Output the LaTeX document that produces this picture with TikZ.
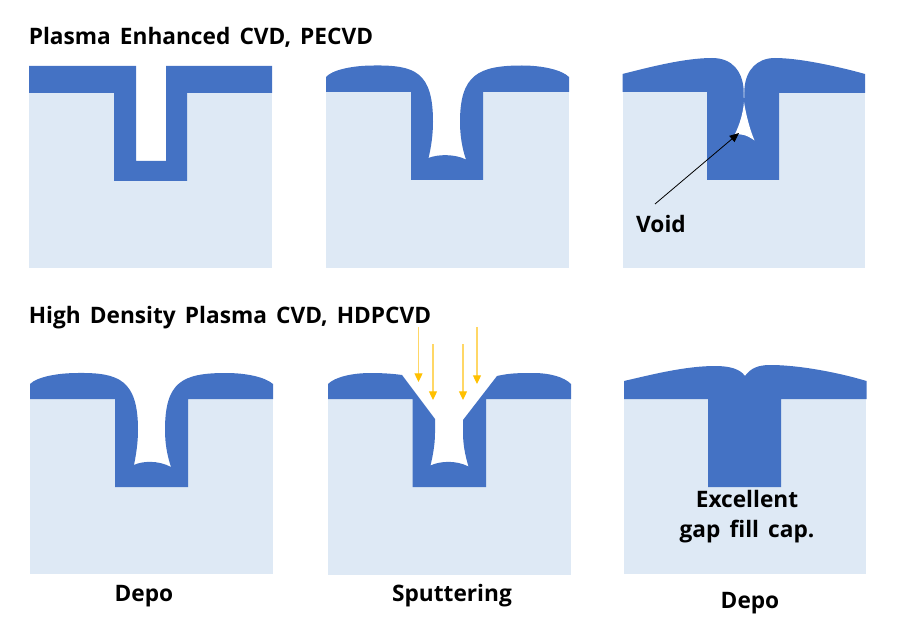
\documentclass[tikz,border=0pt]{standalone}
\usepackage{fontspec}
\setmainfont{Open Sans}[WordSpace=1.55]
\usetikzlibrary{arrows.meta}
\definecolor{filmblue}{HTML}{4472C4}
\definecolor{subst}{HTML}{DEE9F5}
\definecolor{ionyellow}{HTML}{FFC000}
\definecolor{ionline}{HTML}{FFD766}
\tikzset{
  substrate/.style={fill=subst,draw=none},
  film/.style={fill=filmblue,draw=none},
  gap/.style={fill=white,draw=none},
  lbl/.style={font=\bfseries\fontsize{17pt}{22.5pt}\selectfont,text=black,inner sep=0pt,align=center},
  ion/.style={draw=ionline,line width=0.9pt,-{Triangle[length=6.5pt,width=6pt,color=ionyellow]}},
  pointer/.style={draw=black,line width=0.6pt,-{Triangle[length=7pt,width=6pt]}}
}
\begin{document}
\begin{tikzpicture}[x=0.75pt,y=-0.75pt]
\useasboundingbox (0,0) rectangle (897,631);
% Panel 1
\fill[substrate] (29,93) rectangle (272,268);
\fill[gap] (114,93) rectangle (187,181);
\fill[film] (29,66) -- (136,66) -- (136,161) -- (166,161) -- (166,66) -- (272,66) -- (272,93) -- (187,93) -- (187,181) -- (114,181) -- (114,93) -- (29,93) -- cycle;
% Panel 2
\fill[substrate] (326,92) rectangle (569,268);
\fill[gap] (411,92) rectangle (483,180);
\fill[film] (326,92) -- (326,77) .. controls (332,70) and (352,65.5) .. (374,65.5)
 .. controls (415,65) and (433,72) .. (433,122)
 .. controls (433,135) and (431,148) .. (428.5,158)
 .. controls (438,154) and (455,154) .. (466,159.5)
 .. controls (462,148) and (460,135) .. (460,122)
 .. controls (460,75) and (478,65.5) .. (522,65.5)
 .. controls (543,65.5) and (562,70) .. (569,77)
 -- (569,92) -- (483,92) -- (483,180) -- (411,180) -- (411,92) -- cycle;
% Panel 3
\fill[substrate] (623,92) rectangle (865,268);
\fill[film] (622.5,92) -- (622.5,74) .. controls (650,67) and (685,58) .. (712,58)
 .. controls (733,58) and (742,72) .. (743.5,88)
 -- (743.8,100) -- (744.2,100) -- (744.5,88)
 .. controls (746,70) and (757,58) .. (775,58)
 .. controls (800,58) and (840,67) .. (865,74)
 -- (865,93) -- (779,93) -- (779,180) -- (707,180) -- (707,92) -- cycle;
\fill[gap] (744,102) .. controls (743,113) and (740,124) .. (734.5,135)
 .. controls (740,133) and (747,135) .. (754.5,140.5)
 .. controls (750,130) and (746,115) .. (744,102) -- cycle;
% Panel 4
\fill[substrate] (30,399) rectangle (273,574);
\fill[gap] (115,399) rectangle (188,487);
\fill[film] (30,399) -- (30,384) .. controls (37,377) and (57,373) .. (78,373)
 .. controls (119,372.5) and (138,380) .. (138,430)
 .. controls (138,443) and (136,455) .. (134,465)
 .. controls (142,461) and (158,460) .. (171,467)
 .. controls (167,455) and (165,443) .. (165,430)
 .. controls (165,382) and (182,373) .. (226,373)
 .. controls (246,373) and (265,377) .. (273,384)
 -- (273,399) -- (188,399) -- (188,487) -- (115,487) -- (115,399) -- cycle;
% Panel 5
\fill[substrate] (328,399) rectangle (571,575);
\fill[gap] (412.5,399) rectangle (486,487);
\fill[film] (328,399) -- (328,384) .. controls (335,377) and (352,373) .. (371,373)
 .. controls (384,373) and (395,374) .. (402,375) -- (435,419) -- (435,433)
 .. controls (435,444) and (433,455) .. (430.5,465.5)
 .. controls (440,461) and (456,460) .. (468.5,466.5)
 .. controls (465,455) and (463,444) .. (463,433) -- (463,420) -- (497,376)
 .. controls (510,373) and (520,373) .. (533,373)
 .. controls (550,373) and (564,377) .. (571,384)
 -- (571,399) -- (486,399) -- (486,487) -- (412.5,487) -- (412.5,399) -- cycle;
% Panel 6
\fill[substrate] (624,399) rectangle (866,574);
\fill[film] (624,399) -- (624,381) .. controls (650,375) and (685,366) .. (715,366)
 .. controls (730,366) and (740,369) .. (745,376)
 .. controls (750,369) and (757,365) .. (770,365)
 .. controls (800,365) and (840,373) .. (866.5,381)
 -- (866.5,399) -- (781,399) -- (781,487) -- (708,487) -- (708,399) -- cycle;
% Labels
\node[lbl,anchor=base west] (t1) at (28.5,45) {Plasma Enhanced CVD, PECVD};
\node[lbl,anchor=base west] (t2) at (28.5,324) {High Density Plasma CVD, HDPCVD};
\node[lbl] (void) at (661,224) {Void};
\node[lbl] (exc) at (747,517) {Excellent\\gap fill cap.};
\node[lbl] (d1) at (144,596) {Depo};
\node[lbl] (sp) at (452,596) {Sputtering};
\node[lbl] (d2) at (750,603) {Depo};
% Void pointer
\coordinate (ptail) at (655,204);
\coordinate (phead) at (739,133);
\draw[pointer] (ptail) -- (phead);
% Ion arrows
\coordinate (a1s) at (418.5,327); \coordinate (a1e) at (418.5,382);
\coordinate (a2s) at (433,344);   \coordinate (a2e) at (433,400);
\coordinate (a3s) at (463,344);   \coordinate (a3e) at (463,400);
\coordinate (a4s) at (477,327);   \coordinate (a4e) at (477,384);
\draw[ion] (a1s) -- (a1e);
\draw[ion] (a2s) -- (a2e);
\draw[ion] (a3s) -- (a3e);
\draw[ion] (a4s) -- (a4e);
\end{tikzpicture}
\end{document}
